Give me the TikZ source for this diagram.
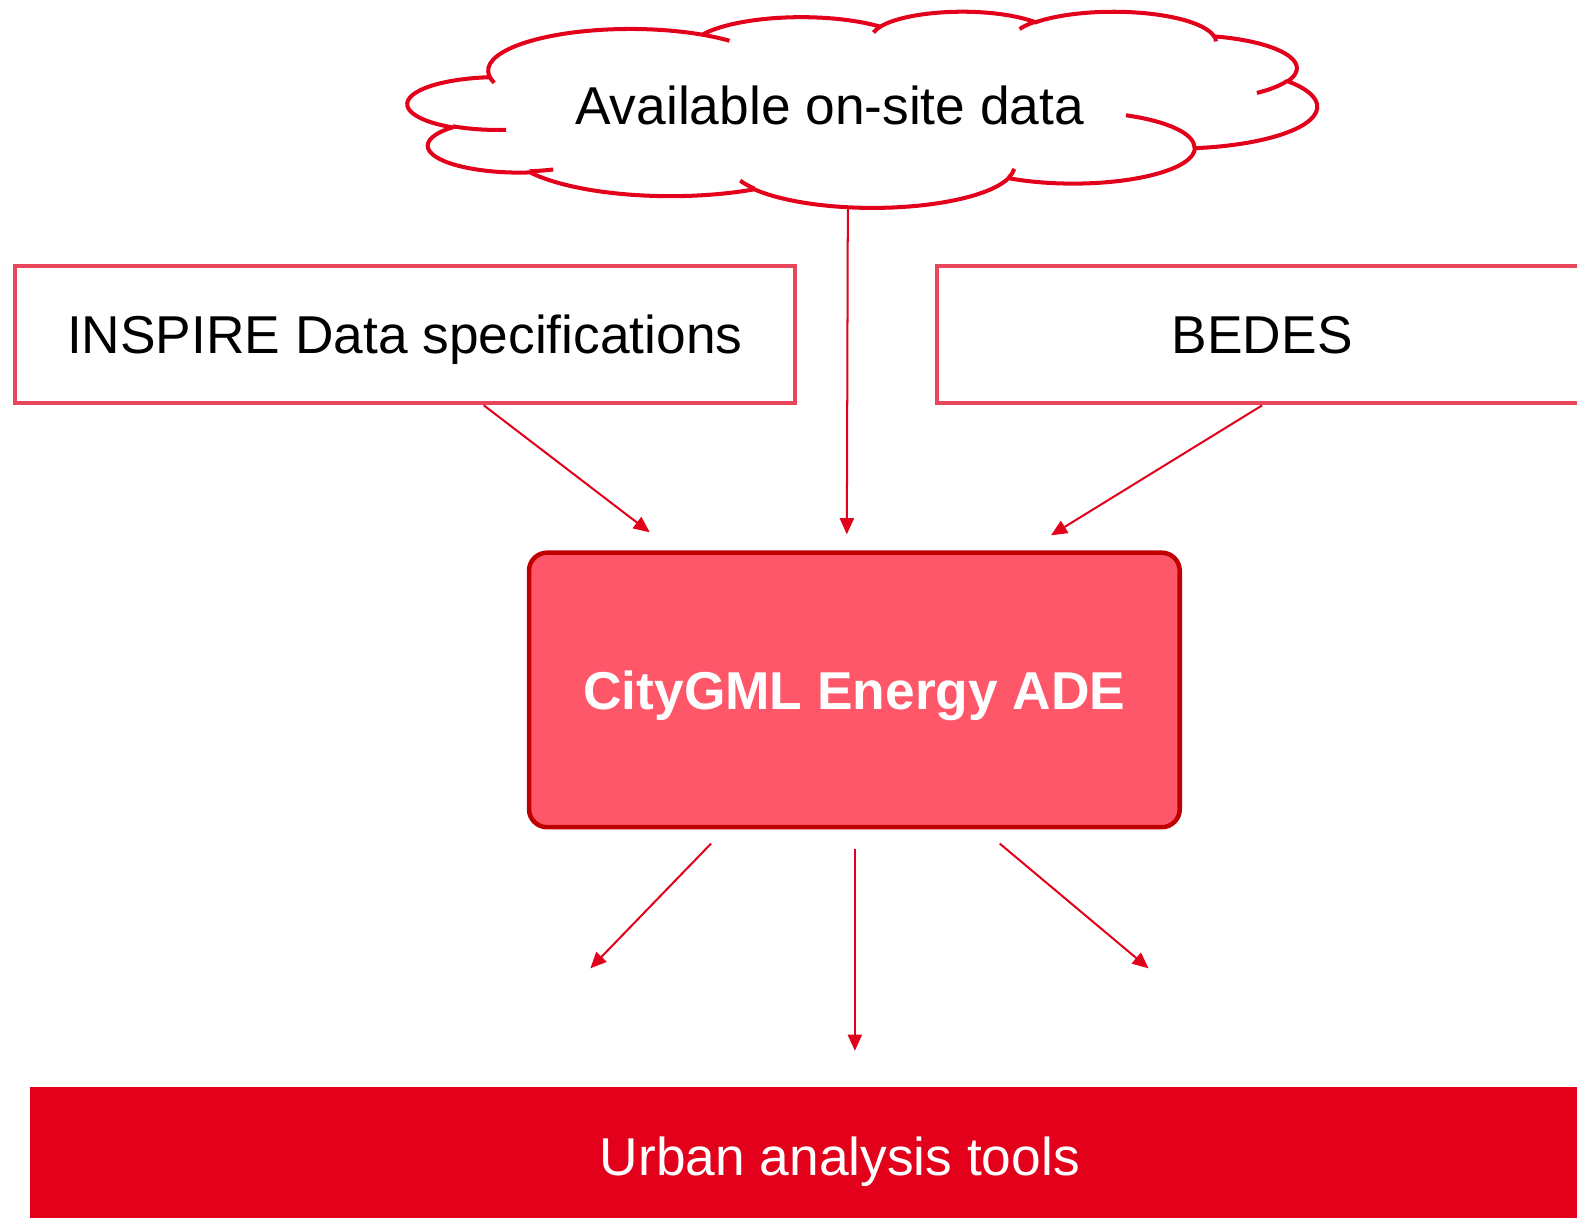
\documentclass[tikz,border=0pt]{standalone}
\usepackage{fontspec}
\setmainfont{Liberation Sans}
\usetikzlibrary{arrows.meta}
\definecolor{cred}{HTML}{E2001A}
\definecolor{boxred}{HTML}{E8465A}
\definecolor{adefill}{HTML}{FF576A}
\definecolor{adeborder}{HTML}{C00000}
\newcommand\ooArc[4]{%
  \pgfmathsetmacro\ooA{atan2((#1)*sin(#3),(#2)*cos(#3))}%
  \pgfmathsetmacro\ooB{atan2((#1)*sin((#3)+(#4)),(#2)*cos((#3)+(#4)))}%
  \pgfmathsetmacro\ooD{\ooB-\ooA}%
  \pgfmathsetmacro\ooE{\ooA+\ooD+360*round(((#4)-\ooD)/360)}%
  \pgfpatharc{\ooA}{\ooE}{#1pt and #2pt}%
}
\tikzset{
  big/.style={font=\fontsize{53}{60}\selectfont, text height=38pt, text depth=0pt},
  specbox/.style={draw=boxred, line width=4pt, fill=white, big, inner sep=0pt},
  arr/.style={draw=cred, line width=2pt, -{Triangle[length=16pt,width=14pt]}},
}
\begin{document}
\begin{tikzpicture}[x=1pt,y=-1pt]
\useasboundingbox (0,0) rectangle (1568,1211);
% cloud shape
\begin{scope}[shift={(405,11)}, xscale=904.4/432, yscale=-195/432]
  \pgfsetlinewidth{4pt}\pgfsetstrokecolor{cred}\pgfsetfillcolor{white}
  \pgfpathmoveto{\pgfpoint{39.00pt}{143.70pt}}
  \ooArc{67.53}{91.90}{-190.4875}{123.7805}
  \ooArc{53.33}{72.67}{-144.1024}{89.9452}
  \ooArc{43.65}{59.45}{-145.8079}{99.7230}
  \ooArc{48.57}{65.95}{-130.9861}{117.2417}
  \ooArc{53.33}{72.73}{-78.7089}{109.0269}
  \ooArc{67.75}{92.20}{-46.2673}{130.2690}
  \ooArc{57.85}{78.67}{0.6250}{114.0333}
  \ooArc{67.52}{92.15}{22.4516}{115.1726}
  \ooArc{77.20}{105.43}{66.2426}{75.2230}
  \ooArc{43.60}{59.18}{-274.9421}{146.7356}
  \ooArc{43.45}{59.45}{-246.8285}{152.5189}
  \pgfpathclose
  \pgfusepath{fill,stroke}
  \pgfpathmoveto{\pgfpoint{46.93pt}{261.77pt}}\ooArc{43.45}{59.45}{86.7420}{26.4295}
  \pgfpathmoveto{\pgfpoint{69.28pt}{348.99pt}}\ooArc{43.60}{59.18}{73.6105}{11.4475}
  \pgfpathmoveto{\pgfpoint{164.78pt}{390.90pt}}\ooArc{67.52}{92.15}{137.6242}{14.0811}
  \pgfpathmoveto{\pgfpoint{288.27pt}{347.51pt}}\ooArc{67.52}{92.15}{6.4533}{15.9984}
  \pgfpathmoveto{\pgfpoint{341.29pt}{229.54pt}}\ooArc{57.85}{78.67}{-70.2924}{70.9174}
  \pgfpathmoveto{\pgfpoint{417.98pt}{153.54pt}}\ooArc{53.33}{72.73}{30.3180}{27.7515}
  \pgfpathmoveto{\pgfpoint{383.24pt}{54.26pt}}\ooArc{48.57}{65.95}{-13.7443}{14.8589}
  \pgfpathmoveto{\pgfpoint{290.78pt}{39.52pt}}\ooArc{48.57}{65.95}{-149.1815}{18.1954}
  \pgfpathmoveto{\pgfpoint{221.41pt}{47.20pt}}\ooArc{43.65}{59.45}{-163.4943}{17.6864}
  \pgfpathmoveto{\pgfpoint{140.00pt}{51.92pt}}\ooArc{67.53}{91.90}{-66.7070}{12.3194}
  \pgfpathmoveto{\pgfpoint{41.27pt}{157.89pt}}\ooArc{67.53}{91.90}{157.6544}{11.8582}
  \pgfusepath{stroke}
\end{scope}
\node[minimum width=906, minimum height=196, inner sep=0pt] (cloud) at (857,108) {};
\node[big, inner sep=0pt] (cloudtext) at (825,105) {Available on-site data};
% boxes
\node[specbox, minimum width=775, minimum height=137] (inspire) at (402.5,332.5) {INSPIRE Data specifications};
\node[specbox, minimum width=646, minimum height=137] (bedes) at (1255,332.5) {BEDES};
\node[draw=adeborder, fill=adefill, line width=4.5pt, rounded corners=18pt,
      minimum width=647, minimum height=273, inner sep=0pt, text=white, big,
      font=\fontsize{53}{60}\selectfont\bfseries] (ade) at (849.5,686) {CityGML Energy ADE};
\node[fill=cred, minimum width=1610, minimum height=138, inner sep=0pt, text=white, big] (urban) at (835,1150) {Urban analysis tools};
% connectors
\draw[arr] ([xshift=78.5pt]inspire.south) -- ([xshift=-203.5pt,yshift=18pt]ade.north);
\draw[arr] ([xshift=-14pt]cloud.south) -- ([xshift=-7.5pt,yshift=16pt]ade.north);
\draw[arr] (bedes.south) -- ([xshift=195.5pt,yshift=15pt]ade.north);
\draw[arr] ([xshift=-142.5pt,yshift=-14pt]ade.south) -- ([xshift=-248pt,yshift=118pt]urban.north);
\draw[arr] ([xshift=0.5pt,yshift=-19pt]ade.south) -- ([xshift=15pt,yshift=36pt]urban.north);
\draw[arr] ([xshift=144.5pt,yshift=-14pt]ade.south) -- ([xshift=307pt,yshift=118pt]urban.north);
\end{tikzpicture}
\end{document}
